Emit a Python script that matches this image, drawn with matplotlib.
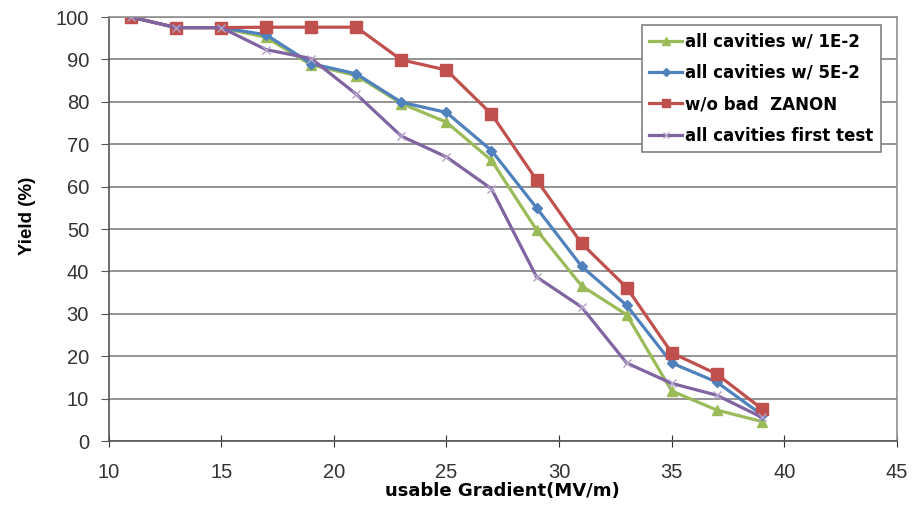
import numpy as np
import matplotlib.pyplot as plt

plt.rcParams['font.family'] = ['Liberation Sans', 'DejaVu Sans']

# Gradient values (MV/m)
gradient = [11, 13, 15, 17, 19, 21, 23, 25, 27, 29, 31, 33, 35, 37, 39]

# Yield (%) for each series
yield_1e2 = [100, 97.5, 97.5, 95.2, 88.7, 86.2, 79.6, 75.2, 66.2, 49.8, 36.6, 29.8, 11.8, 7.3, 4.6]
yield_5e2 = [100, 97.5, 97.5, 95.8, 89.0, 86.6, 79.9, 77.5, 68.5, 55.0, 41.2, 32.0, 18.4, 13.9, 6.2]
yield_zanon = [100, 97.5, 97.5, 97.6, 97.6, 97.6, 89.9, 87.5, 77.1, 61.6, 46.6, 36.2, 20.8, 15.8, 7.6]
yield_first = [100, 97.5, 97.5, 92.3, 90.2, 81.8, 71.9, 67.0, 59.5, 38.7, 31.6, 18.4, 13.6, 10.8, 5.6]

fig = plt.figure(figsize=(9.18, 5.05), dpi=100)
ax = fig.add_axes([0.1182, 0.1267, 0.8589, 0.8396])

ax.plot(gradient, yield_1e2, color='#9BBB59', marker='^', markersize=7.5, lw=2.3,
        label='all cavities w/ 1E-2')
ax.plot(gradient, yield_5e2, color='#4F81BD', marker='D', markersize=5.5, lw=2.3,
        label='all cavities w/ 5E-2')
ax.plot(gradient, yield_zanon, color='#C0504D', marker='s', markersize=8.5, lw=2.3,
        label='w/o bad  ZANON')
ax.plot(gradient, yield_first, color='#8064A2', marker='x', markersize=6,
        markeredgecolor='#B3A2C7', lw=2.3, label='all cavities first test')

ax.set_xlim(10, 45)
ax.set_ylim(0, 100)
ax.set_xticks(np.arange(10, 46, 5))
ax.set_yticks(np.arange(0, 101, 10))
ax.yaxis.grid(True, color='#808080', lw=1.2)
ax.set_axisbelow(True)

for s in ['top', 'right']:
    ax.spines[s].set_color('#909090')
    ax.spines[s].set_linewidth(1.2)
for s in ['left', 'bottom']:
    ax.spines[s].set_color('#555555')
    ax.spines[s].set_linewidth(1.2)

ax.tick_params(axis='y', direction='out', length=6, color='#555555', labelsize=14.5,
               labelcolor='#333333', pad=8)
ax.tick_params(axis='x', direction='inout', length=8, color='#333333', labelsize=14.5,
               labelcolor='#333333', pad=12)

ax.set_xlabel('usable Gradient(MV/m)', fontsize=13, fontweight='bold',
              family='DejaVu Sans', labelpad=0)
ax.set_ylabel('Yield (%)', fontsize=13.5, fontweight='bold')
ax.yaxis.set_label_coords(-0.092, 0.53)

leg = ax.legend(loc='upper left', bbox_to_anchor=(0.676, 0.981), borderaxespad=0,
                prop={'family': 'DejaVu Sans', 'weight': 'bold', 'size': 12},
                frameon=True, fancybox=False, handlelength=2.0, handletextpad=0.15,
                borderpad=0.45, labelspacing=0.8, markerscale=0.75)
leg.get_frame().set_edgecolor('#808080')
leg.get_frame().set_linewidth(1.2)
leg.get_frame().set_alpha(1)

fig.savefig('out.png', dpi=100)
